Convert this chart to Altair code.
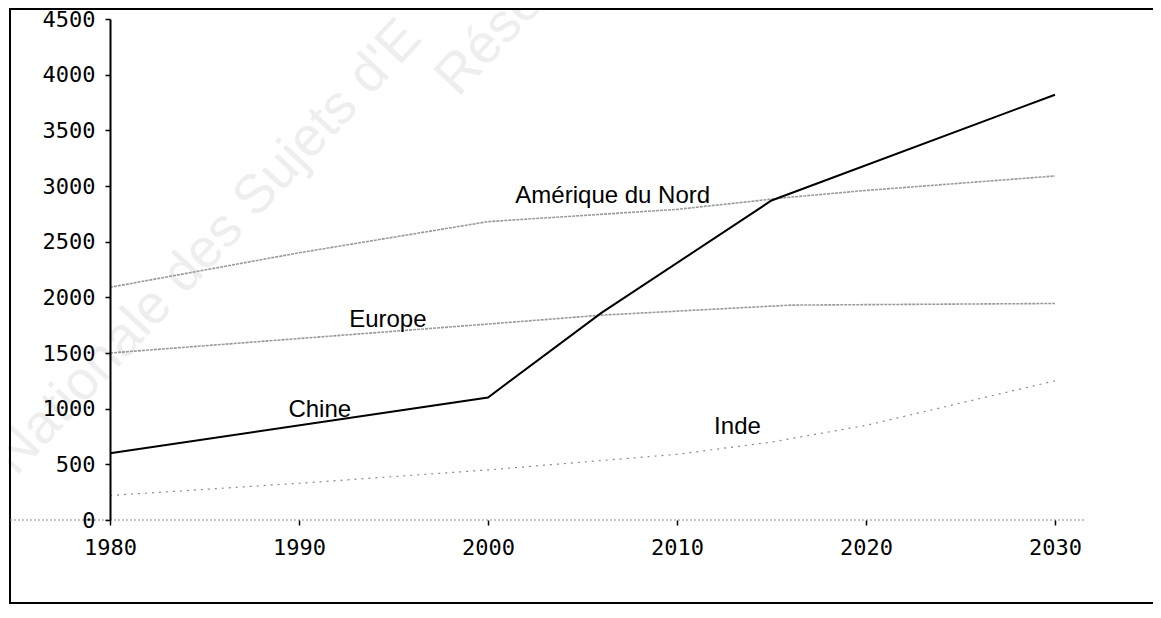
import altair as alt
import pandas as pd

# ---- data ----
years_chine = [1980, 2000, 2006, 2015, 2030]
vals_chine = [600, 1100, 1860, 2870, 3820]

years_amn = [1980, 1990, 2000, 2010, 2016, 2020, 2030]
vals_amn = [2090, 2400, 2680, 2790, 2900, 2960, 3090]

years_eur = [1980, 1990, 2000, 2006, 2016, 2030]
vals_eur = [1500, 1630, 1760, 1840, 1930, 1945]

years_inde = [1980, 1990, 2000, 2010, 2015, 2020, 2030]
vals_inde = [220, 330, 450, 590, 700, 850, 1250]

label_names = ["Amérique du Nord", "Europe", "Chine", "Inde"]
label_years = [2006.6, 1994.7, 1991.1, 2013.2]
label_vals = [2843, 1731, 924, 771]

x_ticks = [1980, 1990, 2000, 2010, 2020, 2030]
y_ticks = [0, 500, 1000, 1500, 2000, 2500, 3000, 3500, 4000, 4500]

def frame(name, ys, vs):
    return pd.DataFrame({"serie": name, "annee": ys, "valeur": vs})

xs = alt.Scale(domain=[1980, 2030], nice=False, zero=False)
ysc = alt.Scale(domain=[0, 4500], nice=False)

AX_FONT = "DejaVu Sans Mono"

x_axis = alt.Axis(values=x_ticks, format="d", title=None, domain=False, grid=False,
                  tickColor="black", tickSize=5, tickWidth=1.5,
                  labelFont=AX_FONT, labelFontSize=22, labelColor="black",
                  labelPadding=12, labelFlush=False, zindex=1)
y_axis = alt.Axis(values=y_ticks, format="d", title=None, grid=False,
                  domainColor="black", domainWidth=2,
                  tickColor="black", tickSize=5, tickWidth=1.5,
                  labelFont=AX_FONT, labelFontSize=22, labelColor="black",
                  labelPadding=10, labelFlush=False, zindex=1)

def xenc():
    return alt.X("annee:Q", scale=xs, axis=x_axis)

def yenc():
    return alt.Y("valeur:Q", scale=ysc, axis=y_axis)

one = pd.DataFrame({"k": [0]})

# watermark (faint)
wm1 = alt.Chart(one).mark_text(text="Nationale des Sujets d'E", angle=313, align="left",
                               baseline="alphabetic", font="Liberation Sans",
                               fontSize=55, color="#eeeeee").encode(
    x=alt.value(-94), y=alt.value(458))
wm2 = alt.Chart(one).mark_text(text="Rése", angle=313, align="left",
                               baseline="alphabetic", font="Liberation Sans",
                               fontSize=55, color="#eeeeee").encode(
    x=alt.value(348), y=alt.value(79))

# frame around the whole chart
box = alt.Chart(one).mark_rect(filled=False, stroke="black", strokeWidth=2).encode(
    x=alt.value(-100), x2=alt.value(1060), y=alt.value(-10), y2=alt.value(584))

# dotted zero line extending past the plot
zero = alt.Chart(pd.DataFrame({"valeur": [0]})).mark_rule(
    color="#8a8a8a", strokeDash=[2, 2], strokeWidth=1.2).encode(
    y=yenc(), x=alt.value(-100), x2=alt.value(975))

amn = alt.Chart(frame("Amérique du Nord", years_amn, vals_amn)).mark_line(
    color="#9a9a9a", strokeWidth=1.6, strokeDash=[3, 1]).encode(x=xenc(), y=yenc())
eur = alt.Chart(frame("Europe", years_eur, vals_eur)).mark_line(
    color="#9a9a9a", strokeWidth=1.6, strokeDash=[3, 1]).encode(x=xenc(), y=yenc())
inde = alt.Chart(frame("Inde", years_inde, vals_inde)).mark_line(
    color="#8a8a8a", strokeWidth=1.2, strokeDash=[2, 5]).encode(x=xenc(), y=yenc())
chine = alt.Chart(frame("Chine", years_chine, vals_chine)).mark_line(
    color="black", strokeWidth=2).encode(x=xenc(), y=yenc())

labels = alt.Chart(pd.DataFrame({"nom": label_names, "annee": label_years,
                                 "valeur": label_vals})).mark_text(
    font="Liberation Sans", fontSize=24, color="black", baseline="alphabetic").encode(
    x=xenc(), y=yenc(), text="nom:N")

chart = alt.layer(wm1, wm2, box, zero, amn, eur, inde, chine, labels).properties(
    width=945, height=501,
    padding={"left": 102, "top": 11, "right": 98, "bottom": 86},
    autosize=alt.AutoSizeParams(type="none"),
    background="white",
).configure_view(stroke=None)

chart.save("out.html", embed_options={"renderer": "svg", "actions": False})
